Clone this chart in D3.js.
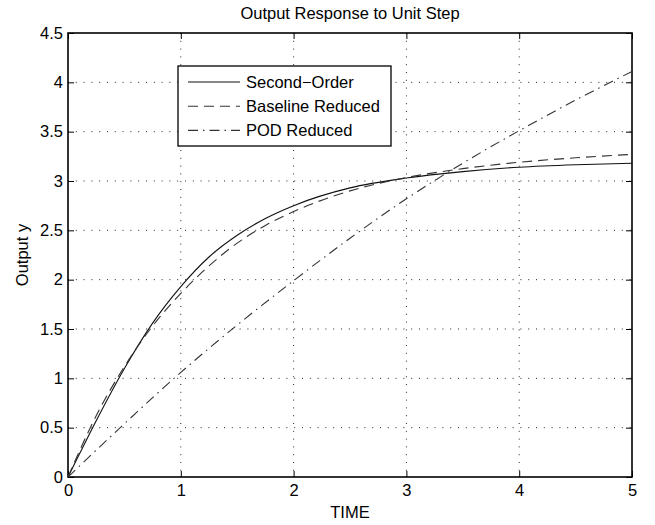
<!DOCTYPE html>
<html>
<head>
<meta charset="utf-8">
<script src="https://cdn.jsdelivr.net/npm/d3@7"></script>
<style>
  body { margin: 0; background: #fff; }
  svg { display: block; font-family: "Liberation Sans", Arial, Helvetica, sans-serif; }
</style>
</head>
<body>
<svg id="chart" width="655" height="525"></svg>
<script>
// ---- data ----
const secondOrderT = [0, 0.1, 0.25, 0.5, 0.75, 1, 1.25, 1.5, 1.75, 2, 2.5, 3, 3.5, 4, 4.5, 5];
const secondOrderY = [0, 0.23, 0.57, 1.1, 1.56, 1.93, 2.23, 2.45, 2.62, 2.75, 2.93, 3.03, 3.095, 3.14, 3.165, 3.18];

const baselineT = [0, 0.1, 0.25, 0.5, 0.75, 1, 1.25, 1.5, 1.75, 2, 2.5, 3, 3.5, 4, 4.5, 5];
const baselineY = [0, 0.26, 0.62, 1.12, 1.53, 1.86, 2.14, 2.37, 2.55, 2.69, 2.9, 3.035, 3.125, 3.19, 3.235, 3.27];

const podT = [0, 0.5, 1, 1.5, 2, 2.5, 3, 3.5, 4, 4.5, 5];
const podY = [0, 0.54, 1.06, 1.54, 1.99, 2.42, 2.82, 3.18, 3.51, 3.82, 4.11];

const xTicks = [0, 1, 2, 3, 4, 5];
const yTicks = [0, 0.5, 1, 1.5, 2, 2.5, 3, 3.5, 4, 4.5];

const seriesNames = ["Second\u2212Order", "Baseline Reduced", "POD Reduced"];
const titleText = "Output Response to Unit Step";
const xLabel = "TIME";
const yLabel = "Output y";

// ---- layout ----
const svg = d3.select("#chart");
const pL = 68, pR = 632, pT = 33, pB = 477;
const x = d3.scaleLinear().domain([0, 5]).range([pL, pR]);
const y = d3.scaleLinear().domain([0, 4.5]).range([pB, pT]);

const fontSize = 16.5;
const fontFam = "'Liberation Sans', Arial, Helvetica, sans-serif";

// grid
const grid = svg.append("g");
grid.selectAll("line.vx").data(xTicks.slice(1, -1)).enter().append("line")
  .attr("x1", d => x(d)).attr("x2", d => x(d))
  .attr("y1", pT).attr("y2", pB)
  .attr("stroke", "#222").attr("stroke-width", 1)
  .attr("stroke-dasharray", "1,6.8");
grid.selectAll("line.hy").data(yTicks.slice(1, -1)).enter().append("line")
  .attr("y1", d => y(d)).attr("y2", d => y(d))
  .attr("x1", pL).attr("x2", pR)
  .attr("stroke", "#222").attr("stroke-width", 1)
  .attr("stroke-dasharray", "1,6.8");

// axes with inward ticks on all sides
const tickLen = 6;
const xAxisB = d3.axisBottom(x).tickValues(xTicks).tickSize(-tickLen).tickPadding(7).tickFormat(d3.format("d"));
const xAxisT = d3.axisTop(x).tickValues(xTicks).tickSize(-tickLen).tickFormat("");
const yAxisL = d3.axisLeft(y).tickValues(yTicks).tickSize(-tickLen).tickPadding(5).tickFormat(d => String(d));
const yAxisR = d3.axisRight(y).tickValues(yTicks).tickSize(-tickLen).tickFormat("");

function style(g) {
  g.select(".domain").remove();
  g.selectAll("line").attr("stroke", "#000");
  g.selectAll("text").attr("fill", "#000").style("font-size", fontSize + "px")
    .style("font-family", fontFam);
}
svg.append("g").attr("transform", `translate(0,${pB})`).call(xAxisB).call(style);
svg.append("g").attr("transform", `translate(0,${pT})`).call(xAxisT).call(style);
svg.append("g").attr("transform", `translate(${pL},0)`).call(yAxisL).call(style);
svg.append("g").attr("transform", `translate(${pR},0)`).call(yAxisR).call(style);

// frame
svg.append("rect").attr("x", pL).attr("y", pT)
  .attr("width", pR - pL).attr("height", pB - pT)
  .attr("fill", "none").attr("stroke", "#000").attr("stroke-width", 1.6);

// series
const line = d3.line().x(d => x(d[0])).y(d => y(d[1])).curve(d3.curveMonotoneX);
const series = [
  { name: seriesNames[0], pts: d3.zip(secondOrderT, secondOrderY), dash: null, color: "#111" },
  { name: seriesNames[1], pts: d3.zip(baselineT, baselineY), dash: "10,6", color: "#333" },
  { name: seriesNames[2], pts: d3.zip(podT, podY), dash: "10,5,1.5,5", color: "#333" }
];
const plot = svg.append("g");
series.forEach(s => {
  plot.append("path").datum(s.pts)
    .attr("d", line)
    .attr("fill", "none")
    .attr("stroke", s.color)
    .attr("stroke-width", 1.1)
    .attr("stroke-dasharray", s.dash);
});

// title & labels
svg.append("text").attr("x", (pL + pR) / 2).attr("y", 19)
  .attr("text-anchor", "middle").style("font-size", fontSize + "px").text(titleText);
svg.append("text").attr("x", (pL + pR) / 2).attr("y", 518)
  .attr("text-anchor", "middle").style("font-size", fontSize + "px").text(xLabel);
svg.append("text").attr("transform", `translate(28,${(pT + pB) / 2}) rotate(-90)`)
  .attr("text-anchor", "middle").style("font-size", fontSize + "px").text(yLabel);

// legend
const lg = svg.append("g");
lg.append("rect").attr("x", 178).attr("y", 66).attr("width", 213).attr("height", 80)
  .attr("fill", "#fff").attr("stroke", "#000").attr("stroke-width", 1.3);
series.forEach((s, i) => {
  const ly = 82 + i * 24.2;
  lg.append("line").attr("x1", 188).attr("x2", 240).attr("y1", ly).attr("y2", ly)
    .attr("stroke", s.color).attr("stroke-width", 1.1).attr("stroke-dasharray", s.dash);
  lg.append("text").attr("x", 246).attr("y", ly + 6)
    .style("font-size", fontSize + "px").text(s.name);
});
</script>
</body>
</html>
